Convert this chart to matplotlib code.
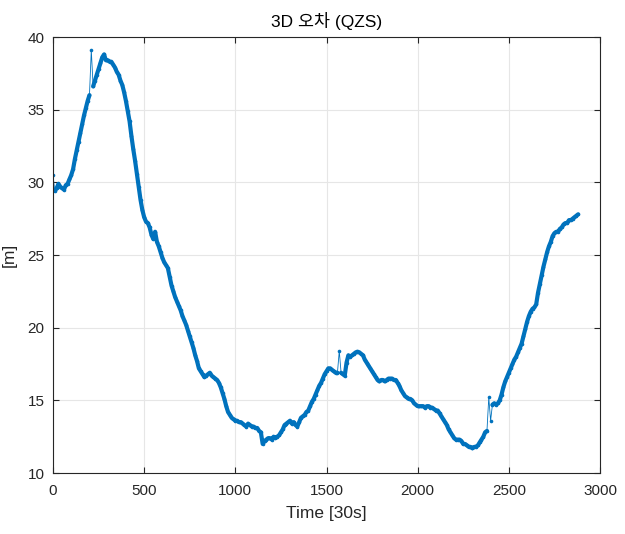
import numpy as np
import matplotlib
matplotlib.use("Agg")
import matplotlib.pyplot as plt

plt.rcParams['font.family'] = ['Liberation Sans', 'Noto Sans CJK KR', 'DejaVu Sans']

title = "3D 오차 (QZS)"
xlabel = "Time [30s]"
ylabel = "[m]"
x_ticks = [0, 500, 1000, 1500, 2000, 2500, 3000]
y_ticks = [10, 15, 20, 25, 30, 35, 40]

# 3D error sampled every 10 epochs (0 .. 2880)
err_3d = [
    30.5, 29.4, 29.6, 29.9, 29.7, 29.6, 29.5, 29.8, 29.9, 30.2,
    30.5, 30.9, 31.6, 32.2, 32.8, 33.4, 34.0, 34.6, 35.1, 35.6,
    36.0, 39.1, 36.6, 37.0, 37.4, 37.8, 38.2, 38.6, 38.8, 38.4,
    38.4, 38.3, 38.3, 38.1, 37.9, 37.6, 37.4, 37.0, 36.7, 36.2,
    35.6, 34.9, 34.2, 33.2, 32.3, 31.5, 30.6, 29.7, 28.8, 28.1,
    27.6, 27.3, 27.2, 26.9, 26.4, 26.1, 26.6, 25.9, 25.6, 25.2,
    24.8, 24.5, 24.3, 24.1, 23.5, 22.9, 22.5, 22.1, 21.8, 21.5,
    21.2, 20.8, 20.5, 20.2, 19.8, 19.4, 19.0, 18.6, 18.1, 17.7,
    17.2, 17.0, 16.8, 16.6, 16.7, 16.8, 16.9, 16.7, 16.6, 16.5,
    16.4, 16.2, 15.9, 15.5, 15.1, 14.6, 14.2, 14.0, 13.8, 13.7,
    13.6, 13.6, 13.5, 13.5, 13.4, 13.3, 13.2, 13.4, 13.3, 13.2,
    13.2, 13.1, 13.1, 12.9, 12.8, 12.0, 12.2, 12.3, 12.4, 12.4,
    12.3, 12.5, 12.4, 12.5, 12.6, 12.8, 13.0, 13.3, 13.4, 13.5,
    13.6, 13.4, 13.5, 13.3, 13.2, 13.5, 13.8, 13.9, 14.0, 14.2,
    14.3, 14.6, 14.9, 15.1, 15.4, 15.7, 16.0, 16.2, 16.5, 16.8,
    17.0, 17.2, 17.2, 17.1, 17.0, 16.9, 16.9, 18.4, 16.9, 16.8,
    16.7, 17.6, 18.1, 18.0, 18.1, 18.2, 18.3, 18.35, 18.3, 18.2,
    18.1, 17.8, 17.6, 17.4, 17.2, 17.0, 16.8, 16.6, 16.4, 16.3,
    16.4, 16.4, 16.3, 16.4, 16.5, 16.5, 16.5, 16.4, 16.4, 16.2,
    16.0, 15.7, 15.5, 15.3, 15.2, 15.1, 15.1, 15.0, 14.8, 14.7,
    14.6, 14.6, 14.6, 14.6, 14.5, 14.6, 14.6, 14.5, 14.5, 14.4,
    14.3, 14.3, 14.1, 13.9, 13.7, 13.5, 13.3, 13.0, 12.8, 12.6,
    12.4, 12.3, 12.3, 12.3, 12.2, 12.0, 12.0, 11.9, 11.8, 11.8,
    11.7, 11.8, 11.8, 11.9, 12.1, 12.3, 12.5, 12.8, 12.9, 15.2,
    13.6, 14.7, 14.8, 14.7, 14.8, 15.0, 15.4, 15.9, 16.3, 16.6,
    16.9, 17.2, 17.5, 17.8, 18.0, 18.3, 18.6, 18.9, 19.4, 19.9,
    20.4, 20.8, 21.1, 21.3, 21.4, 21.6, 22.4, 23.0, 23.6, 24.2,
    24.7, 25.2, 25.6, 25.9, 26.3, 26.5, 26.6, 26.6, 26.8, 26.9,
    27.1, 27.2, 27.2, 27.4, 27.4, 27.5, 27.6, 27.7, 27.8,
]
epochs = np.arange(len(err_3d)) * 10

y = np.asarray(err_3d, dtype=float)
# outlier-like samples (large jumps on both sides) only get the thin trace
d = np.abs(np.diff(y))
prev_jump = np.r_[True, d > 1.05]
next_jump = np.r_[d > 1.05, True]
outlier = prev_jump & next_jump
y_body = np.ma.masked_where(outlier, y)

fig = plt.figure(figsize=(6.25, 5.34), dpi=100)
ax = fig.add_axes([0.0848, 0.1142, 0.8752, 0.8165])

color = '#0072BD'
ax.plot(epochs, y_body, color=color, linewidth=3.0,
        solid_capstyle='round', solid_joinstyle='round')
ax.plot(epochs, y, color=color, linewidth=0.6, marker='o',
        markersize=2.6, markeredgewidth=0)

ax.set_xlim(0, 3000)
ax.set_ylim(10, 40)
ax.set_xticks(x_ticks)
ax.set_yticks(y_ticks)

dark = '#262626'
ax.grid(True, color='#e6e6e6', linewidth=0.8)
ax.set_axisbelow(True)
ax.tick_params(direction='in', top=True, right=True, length=4,
               colors=dark, labelsize=11, width=0.8)
ax.tick_params(axis='x', pad=8)
ax.tick_params(axis='y', pad=6)
for s in ax.spines.values():
    s.set_color(dark)
    s.set_linewidth(0.8)

ax.set_title(title, fontsize=12.5, color='black', pad=7)
ax.set_xlabel(xlabel, fontsize=12.5, color=dark, labelpad=6)
ax.set_ylabel(ylabel, fontsize=12.5, color=dark, labelpad=8)

fig.savefig("out.png", dpi=100)
